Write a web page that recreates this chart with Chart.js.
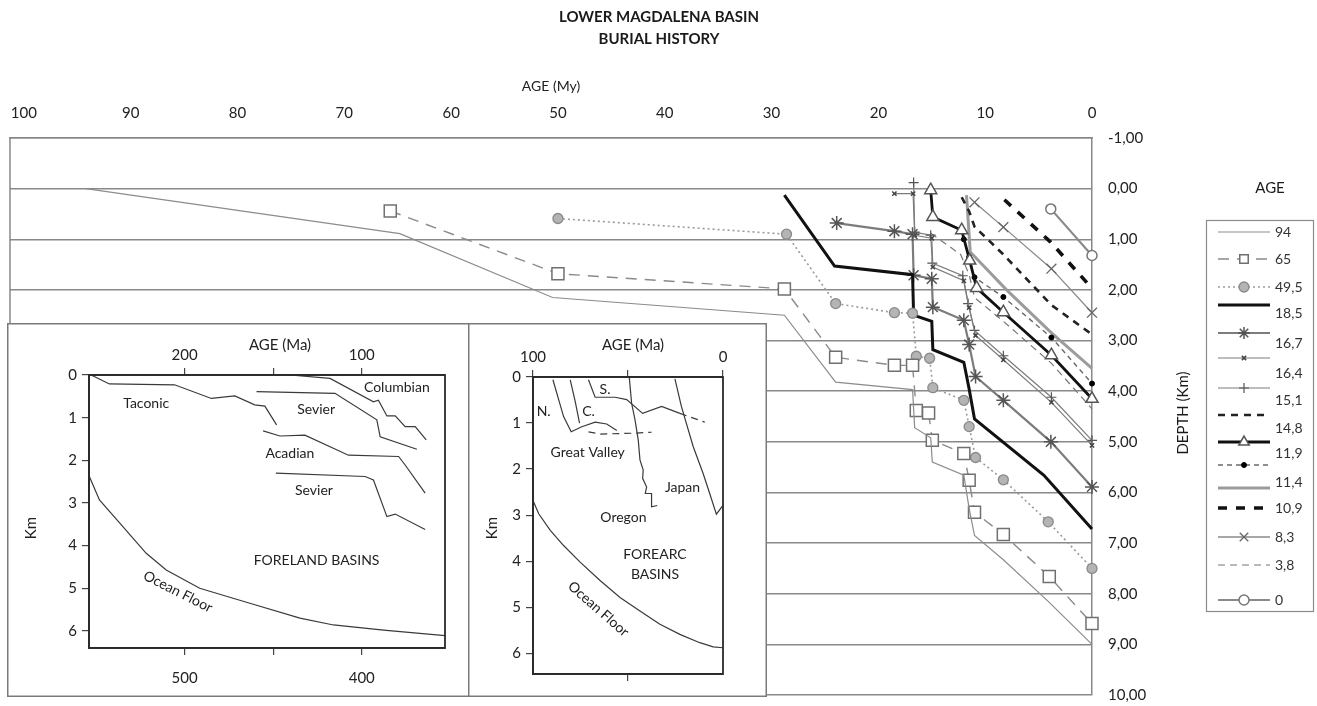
<!DOCTYPE html>
<html>
<head>
<meta charset="utf-8">
<title>Lower Magdalena Basin - Burial History</title>
<script src="https://cdn.jsdelivr.net/npm/chart.js@4.4.1/dist/chart.umd.min.js"></script>
<style>
  html, body { margin: 0; padding: 0; background: #fff; }
  #wrap { position: relative; width: 1317px; height: 706px; overflow: hidden; }
  canvas { position: absolute; display: block; }
  #main { left: 0; top: 0; }
  #foreland { left: 7px; top: 323px; }
  #forearc { left: 468px; top: 323px; }
</style>
</head>
<body>
<div id="wrap">
  <canvas id="main" width="1317" height="706"></canvas>
  <canvas id="foreland" width="463" height="374"></canvas>
  <canvas id="forearc" width="299" height="374"></canvas>
</div>
<script>
// ---------------- Burial history: ages (My) and depths (km) per horizon ----------------
const ageTicks = [0, 10, 20, 30, 40, 50, 60, 70, 80, 90, 100];
const depthTicks = [-1, 0, 1, 2, 3, 4, 5, 6, 7, 8, 9, 10];

const age94 = [94.2, 64.8, 50.5, 28.8, 24.0, 16.8, 16.6, 15.1, 14.95, 12.0, 11.5, 11.0, 8.3, 4.1, 0];
const depth94 = [0, 0.89, 2.15, 2.50, 3.82, 3.97, 4.72, 4.92, 5.40, 5.66, 6.32, 6.85, 7.33, 8.15, 9.0];

const age65 = [65.7, 50.0, 28.8, 24.0, 18.5, 16.8, 16.45, 15.3, 14.95, 12.0, 11.5, 11.0, 8.3, 4.0, 0];
const depth65 = [0.44, 1.68, 1.98, 3.33, 3.49, 3.49, 4.38, 4.43, 4.97, 5.23, 5.76, 6.39, 6.83, 7.66, 8.59];

const age49_5 = [50.0, 28.6, 24.0, 18.5, 16.8, 16.45, 15.2, 14.9, 12.0, 11.5, 10.9, 8.3, 4.1, 0];
const depth49_5 = [0.59, 0.90, 2.27, 2.45, 2.46, 3.31, 3.35, 3.93, 4.18, 4.70, 5.31, 5.75, 6.58, 7.50];

const age18_5 = [28.8, 24.1, 16.8, 16.7, 15.0, 14.9, 12.0, 11.5, 11.0, 4.5, 0];
const depth18_5 = [0.13, 1.53, 1.70, 2.50, 2.62, 3.18, 3.43, 3.96, 4.55, 5.66, 6.72];

const age16_7 = [23.9, 18.5, 16.8, 16.7, 15.0, 14.9, 12.0, 11.5, 10.9, 8.3, 3.85, 0];
const depth16_7 = [0.68, 0.84, 0.90, 1.71, 1.78, 2.34, 2.60, 3.08, 3.71, 4.18, 5.00, 5.89];

const age16_4 = [18.5, 16.75, 16.6, 15.0, 14.9, 12.0, 11.5, 10.9, 8.3, 3.8, 0];
const depth16_4 = [0.10, 0.10, 0.92, 0.98, 1.55, 1.82, 2.35, 2.90, 3.38, 4.22, 5.07];

const age15_1 = [16.7, 16.6, 15.1, 14.95, 12.1, 11.6, 11.0, 8.3, 3.8, 0];
const depth15_1 = [-0.12, 0.86, 0.92, 1.47, 1.72, 2.27, 2.80, 3.30, 4.12, 4.97];

const ageDashed = [12.2, 11.5, 11.0, 8.3, 3.8, 0];
const depthDashed = [0.17, 0.45, 0.75, 1.30, 2.30, 2.88];

const age14_8 = [15.1, 14.9, 12.2, 11.45, 10.8, 8.3, 3.8, 0];
const depth14_8 = [0.03, 0.56, 0.82, 1.42, 1.96, 2.44, 3.29, 4.15];

const age11_9 = [12.0, 11.5, 11.0, 8.3, 3.8, 0];
const depth11_9 = [1.00, 1.35, 1.75, 2.14, 2.94, 3.85];

const age11_4 = [11.75, 11.4, 8.0, 3.8, 0];
const depth11_4 = [0.13, 1.25, 2.00, 2.85, 3.55];

const age10_9 = [8.2, 3.9, 0];
const depth10_9 = [0.22, 1.05, 1.97];

const age8_3 = [11.0, 8.3, 3.8, 0];
const depth8_3 = [0.27, 0.76, 1.58, 2.45];

const age3_8 = [15.1, 12.3, 11.5, 11.0, 8.3, 3.8, 0];
const depth3_8 = [0.88, 1.30, 1.70, 2.15, 2.62, 3.45, 4.35];

const age0 = [3.86, 0];
const depth0 = [0.40, 1.32];

// ---------------- Foreland basins inset (Ma, km) ----------------
const forelandTopTicks = [200, 150, 100];
const forelandBottomTicks = [500, 450, 400];
const forelandDepthTicks = [0, 1, 2, 3, 4, 5, 6];

const taconicAge = [252.8, 242.5, 205.7, 184.9, 171.7, 160.4, 154.7, 148.1];
const taconicDepth = [0, 0.21, 0.23, 0.55, 0.49, 0.70, 0.73, 1.17];
const columbianAge = [140.6, 117.9, 93.4, 90.6, 85.8, 81.1, 75.5, 69.8, 63.6];
const columbianDepth = [0, 0.08, 0.63, 0.59, 0.96, 0.96, 1.21, 1.21, 1.52];
const sevierUpperAge = [159.4, 115.1, 91.5, 89.6, 68.9];
const sevierUpperDepth = [0.39, 0.43, 1.05, 1.45, 1.74];
const acadianAge = [155.7, 146.2, 132.1, 107.5, 79.2, 75.5, 64.2];
const acadianDepth = [1.31, 1.43, 1.41, 1.88, 1.91, 2.11, 2.77];
const sevierLowerAge = [148.5, 98.1, 93.4, 85.8, 81.1, 64.2];
const sevierLowerDepth = [2.30, 2.38, 2.46, 3.32, 3.26, 3.62];
const forelandOceanAge = [253.8, 248.1, 235.0, 221.7, 210.4, 191.5, 163.2, 134.9, 116.0, 87.7, 52.8];
const forelandOceanDepth = [2.38, 2.93, 3.55, 4.18, 4.57, 5.00, 5.35, 5.70, 5.86, 5.98, 6.11];

const forelandNoteText = ['Taconic', 'Columbian', 'Sevier', 'Acadian', 'Sevier', 'FORELAND BASINS', 'Ocean Floor'];
const forelandNoteAge = [221.7, 80.2, 125.8, 140.6, 127.0, 125.5, 203.8];
const forelandNoteDepth = [0.66, 0.29, 0.82, 1.84, 2.70, 4.34, 5.08];

// ---------------- Forearc basins inset (Ma, km) ----------------
const forearcTopTicks = [100, 50, 0];
const forearcDepthTicks = [0, 1, 2, 3, 4, 5, 6];

const northAge = [89.5, 86.5, 83.9, 79.9, 74.3, 67.3, 61.2, 55.9];
const northDepth = [0.06, 0.49, 0.86, 1.19, 1.08, 0.98, 1.02, 1.16];
const centralAge = [80.4, 77.8, 75.5];
const centralDepth = [0.06, 0.53, 1.00];
const valleyBaseAge = [70.8, 64.7, 47.2, 37.6];
const valleyBaseDepth = [1.19, 1.24, 1.22, 1.20];
const southAge = [70.8, 67.3, 56.8, 50.7, 42.3, 32.3, 22.7];
const southDepth = [0.06, 0.44, 0.44, 0.49, 0.79, 0.64, 0.79];
const southTailAge = [22.7, 9.6];
const southTailDepth = [0.79, 0.98];
const oregonAge = [49.3, 48.1, 46.3, 44.6, 43.7, 42.0, 42.3, 40.2, 40.9, 37.6, 37.6, 34.6];
const oregonDepth = [0.02, 0.57, 0.93, 1.37, 1.80, 2.02, 2.20, 2.39, 2.53, 2.53, 2.82, 2.79];
const japanAge = [25.3, 21.9, 15.7, 10.5, 7.0, 3.5, 0];
const japanDepth = [0.04, 0.64, 1.51, 2.09, 2.53, 2.98, 2.79];
const forearcOceanAge = [100, 97.0, 90.9, 83.9, 75.2, 64.7, 54.2, 43.7, 33.2, 22.7, 12.2, 5.2, 0];
const forearcOceanDepth = [2.68, 2.97, 3.33, 3.66, 4.02, 4.42, 4.79, 5.08, 5.37, 5.59, 5.77, 5.86, 5.88];

const forearcNoteText = ['S.', 'N.', 'C.', 'Great Valley', 'Japan', 'Oregon', 'FOREARC', 'BASINS', 'Ocean Floor'];
const forearcNoteAge = [62.1, 94.4, 70.8, 71.2, 21.3, 52.4, 35.8, 35.8, 65.6];
const forearcNoteDepth = [0.28, 0.75, 0.75, 1.64, 2.40, 3.05, 3.85, 4.28, 5.04];

// ---------------- drawing ----------------
const FONT = 'Lato, "Open Sans", "DejaVu Sans", sans-serif';
Chart.defaults.font.family = FONT;
Chart.defaults.color = '#222';

function pts(ages, depths) { return ages.map((a, i) => ({ x: a, y: depths[i] })); }
const comma2 = v => v.toFixed(2).replace('.', ',');
// keep the plot rectangle exactly where the layout padding puts it
function noEdgePadding(s) { s.paddingLeft = 0; s.paddingRight = 0; s.paddingTop = 0; s.paddingBottom = 0; }

function series(label, ages, depths, style) {
  return Object.assign({
    label, data: pts(ages, depths), showLine: true, fill: false, tension: 0,
    clip: false, pointRadius: 0, borderWidth: 1.2, borderColor: '#858585',
    pointHoverRadius: 0
  }, style);
}

const burialSets = [
  series('94', age94, depth94, { borderColor: '#8c8c8c', borderWidth: 1.2 }),
  series('65', age65, depth65, { borderColor: '#8a8a8a', borderWidth: 1.4, borderDash: [11, 8],
    pointStyle: 'rect', pointRadius: 8.5, pointBackgroundColor: '#fff', pointBorderColor: '#707070', pointBorderWidth: 1.5 }),
  series('49,5', age49_5, depth49_5, { borderColor: '#9a9a9a', borderWidth: 1.6, borderDash: [2, 3],
    pointStyle: 'circle', pointRadius: 5, pointBackgroundColor: '#b4b4b4', pointBorderColor: '#8a8a8a', pointBorderWidth: 1.3 }),
  series('18,5', age18_5, depth18_5, { borderColor: '#111', borderWidth: 3 }),
  series('16,7', age16_7, depth16_7, { borderColor: '#7c7c7c', borderWidth: 2.2,
    pointStyle: 'star', pointRadius: 7, pointBorderColor: '#555', pointBorderWidth: 1.5 }),
  series('16,4', age16_4, depth16_4, { borderColor: '#7c7c7c', borderWidth: 1.2,
    pointStyle: 'crossRot', pointRadius: 3, pointBorderColor: '#444', pointBorderWidth: 1.5 }),
  series('15,1', age15_1, depth15_1, { borderColor: '#7c7c7c', borderWidth: 1.2,
    pointStyle: 'cross', pointRadius: 5, pointBorderColor: '#555', pointBorderWidth: 1.2 }),
  series('', ageDashed, depthDashed, { borderColor: '#222', borderWidth: 2.6, borderDash: [7, 6] }),
  series('14,8', age14_8, depth14_8, { borderColor: '#111', borderWidth: 2.8,
    pointStyle: 'triangle', pointRadius: 7, pointBackgroundColor: '#fff', pointBorderColor: '#555', pointBorderWidth: 1.5 }),
  series('11,9', age11_9, depth11_9, { borderColor: '#6a6a6a', borderWidth: 1.4, borderDash: [5, 4],
    pointStyle: 'circle', pointRadius: 2.5, pointBackgroundColor: '#000', pointBorderColor: '#000', pointBorderWidth: 1 }),
  series('11,4', age11_4, depth11_4, { borderColor: '#9c9c9c', borderWidth: 3 }),
  series('10,9', age10_9, depth10_9, { borderColor: '#111', borderWidth: 3.6, borderDash: [9, 9] }),
  series('8,3', age8_3, depth8_3, { borderColor: '#8a8a8a', borderWidth: 1.3,
    pointStyle: 'crossRot', pointRadius: 7, pointBorderColor: '#666', pointBorderWidth: 1.3 }),
  series('3,8', age3_8, depth3_8, { borderColor: '#777', borderWidth: 1.2, borderDash: [7, 5] }),
  series('0', age0, depth0, { borderColor: '#8a8a8a', borderWidth: 2.2,
    pointStyle: 'circle', pointRadius: 5, pointBackgroundColor: '#fff', pointBorderColor: '#777', pointBorderWidth: 1.5 })
];

// Titles, frame, rotated axis title and the boxed legend of the main chart
const burialDecor = {
  id: 'burialDecor',
  afterDraw(chart) {
    const ctx = chart.ctx, area = chart.chartArea;
    ctx.save();
    // left frame edge
    ctx.strokeStyle = '#888'; ctx.lineWidth = 1.5;
    ctx.beginPath(); ctx.moveTo(area.left, area.top); ctx.lineTo(area.left, area.bottom); ctx.stroke();

    ctx.fillStyle = '#1a1a1a';
    ctx.textAlign = 'center'; ctx.textBaseline = 'middle';
    ctx.font = 'bold 15px ' + FONT;
    ctx.fillText('LOWER MAGDALENA BASIN', 659, 17);
    ctx.fillText('BURIAL HISTORY', 659, 39);

    ctx.font = '15px ' + FONT;
    ctx.save();
    ctx.translate(1183, 413); ctx.rotate(-Math.PI / 2);
    ctx.fillText('DEPTH (Km)', 0, 0);
    ctx.restore();

    // legend
    ctx.fillText('AGE', 1270, 188);
    ctx.strokeStyle = '#8a8a8a'; ctx.lineWidth = 1.2; ctx.setLineDash([]);
    ctx.strokeRect(1206.5, 220.5, 107, 391);
    const sampleY = [232, 259, 287, 305, 333, 358, 388, 415, 442, 465, 488, 508, 537, 565, 600];
    const labelY = [232, 259, 287, 313, 343, 373, 400, 428, 453, 482, 508, 537, 565, 600];
    let li = 0;
    chart.data.datasets.forEach((ds, i) => {
      const y = sampleY[i];
      ctx.save();
      ctx.strokeStyle = ds.borderColor; ctx.lineWidth = ds.borderWidth;
      ctx.setLineDash(ds.borderDash || []);
      ctx.beginPath(); ctx.moveTo(1218, y); ctx.lineTo(1270, y); ctx.stroke();
      ctx.setLineDash([]);
      if (ds.pointRadius > 0) {
        ctx.fillStyle = ds.pointBackgroundColor || '#fff';
        ctx.strokeStyle = ds.pointBorderColor || ds.borderColor;
        ctx.lineWidth = ds.pointBorderWidth || 1;
        Chart.helpers.drawPoint(ctx, { pointStyle: ds.pointStyle, radius: Math.min(ds.pointRadius, 6), rotation: 0, borderWidth: ds.pointBorderWidth || 1 }, 1244, y);
      }
      ctx.restore();
      if (ds.label) {
        ctx.fillStyle = '#333'; ctx.textAlign = 'left'; ctx.font = '14px ' + FONT;
        ctx.fillText(ds.label, 1275, labelY[li]);
        li++;
      }
    });
    ctx.restore();
  }
};

new Chart(document.getElementById('main'), {
  type: 'scatter',
  data: { datasets: burialSets },
  options: {
    responsive: false, animation: false, devicePixelRatio: 1,
    events: [],
    layout: { padding: { left: 7, right: 0, top: 0, bottom: 11 } },
    plugins: { legend: { display: false }, tooltip: { enabled: false }, title: { display: false } },
    scales: {
      x: {
        type: 'linear', position: 'top', reverse: true, min: 0, max: 101.3,
        afterBuildTicks: s => { s.ticks = ageTicks.map(v => ({ value: v })); },
        afterFit: s => { s.height = 138; noEdgePadding(s); },
        grid: { display: false, drawTicks: false },
        border: { display: true, color: '#888', width: 1.5 },
        ticks: { padding: 16, autoSkip: false, maxRotation: 0, color: '#222', font: { size: 15 }, callback: v => String(v) },
        title: { display: true, text: 'AGE (My)', color: '#222', font: { size: 14 }, padding: { top: 78, bottom: 0 } }
      },
      y: {
        type: 'linear', position: 'right', reverse: true, min: -1, max: 10,
        afterBuildTicks: s => { s.ticks = depthTicks.map(v => ({ value: v })); },
        afterFit: s => { s.width = 225; noEdgePadding(s); },
        grid: { color: '#888', lineWidth: 1.4, drawTicks: false },
        border: { display: true, color: '#888', width: 1.5 },
        ticks: { padding: 16, color: '#222', font: { size: 15 }, callback: v => comma2(v) }
      }
    }
  },
  plugins: [burialDecor]
});

// ---------------- inset charts ----------------
function insetLine(ages, depths, dashed) {
  return { data: pts(ages, depths), showLine: true, fill: false, tension: 0, pointRadius: 0,
    borderColor: '#3a3a3a', borderWidth: 1.2, borderDash: dashed ? [7, 5] : [] };
}

function insetDecor(id, title, titleX, notes, tilt) {
  return {
    id,
    beforeDraw(chart) {
      const ctx = chart.ctx;
      ctx.save();
      ctx.fillStyle = '#fff'; ctx.fillRect(0, 0, chart.width, chart.height);
      ctx.strokeStyle = '#7a7a7a'; ctx.lineWidth = 1.5;
      ctx.strokeRect(0.75, 0.75, chart.width - 1.5, chart.height - 1.5);
      ctx.restore();
    },
    afterDraw(chart) {
      const ctx = chart.ctx, a = chart.chartArea;
      const xs = chart.scales.x, ys = chart.scales.y;
      ctx.save();
      ctx.strokeStyle = '#2a2a2a'; ctx.lineWidth = 1.8;
      ctx.strokeRect(a.left, a.top, a.right - a.left, a.bottom - a.top);
      ctx.fillStyle = '#222'; ctx.textAlign = 'center'; ctx.textBaseline = 'middle';
      ctx.font = '15px ' + FONT;
      ctx.fillText(title, titleX, 22);
      ctx.save();
      ctx.translate(24, 205); ctx.rotate(-Math.PI / 2);
      ctx.fillText('Km', 0, 0);
      ctx.restore();
      ctx.font = '14px ' + FONT;
      notes.text.forEach((t, i) => {
        const px = xs.getPixelForValue(notes.age[i]);
        const py = ys.getPixelForValue(notes.depth[i]);
        ctx.save();
        ctx.translate(px, py);
        if (t === 'Ocean Floor') ctx.rotate(tilt);
        ctx.fillText(t, 0, 0);
        ctx.restore();
      });
      ctx.restore();
    }
  };
}

function tickAxis(position, min, max, ticks, labels, size, padding) {
  return {
    type: 'linear', position, reverse: true, min, max,
    afterBuildTicks: s => { s.ticks = ticks.map(v => ({ value: v })); },
    afterFit: s => { s.height = size; noEdgePadding(s); },
    grid: { drawOnChartArea: false, drawTicks: true, tickLength: 7, color: '#444', lineWidth: 1.2 },
    border: { display: true, color: '#2a2a2a', width: 1.8 },
    ticks: { autoSkip: false, maxRotation: 0, padding, color: '#222', font: { size: 15 },
      callback: (v) => labels.includes(v) ? String(v) : '' }
  };
}

function depthAxis(max, ticks, width) {
  return {
    type: 'linear', position: 'left', reverse: true, min: 0, max,
    afterBuildTicks: s => { s.ticks = ticks.map(v => ({ value: v })); },
    afterFit: s => { s.width = width; noEdgePadding(s); },
    grid: { drawOnChartArea: false, drawTicks: true, tickLength: 7, color: '#444', lineWidth: 1.2 },
    border: { display: true, color: '#2a2a2a', width: 1.8 },
    ticks: { padding: 5, color: '#222', font: { size: 15 }, callback: v => String(v) }
  };
}

new Chart(document.getElementById('foreland'), {
  type: 'scatter',
  data: { datasets: [
    insetLine(taconicAge, taconicDepth), insetLine(columbianAge, columbianDepth),
    insetLine(sevierUpperAge, sevierUpperDepth), insetLine(acadianAge, acadianDepth),
    insetLine(sevierLowerAge, sevierLowerDepth), insetLine(forelandOceanAge, forelandOceanDepth)
  ] },
  options: {
    responsive: false, animation: false, devicePixelRatio: 1, events: [],
    layout: { padding: { left: 0, right: 25, top: 0, bottom: 0 } },
    plugins: { legend: { display: false }, tooltip: { enabled: false } },
    scales: {
      x: tickAxis('top', 53, 254, forelandTopTicks, [200, 100], 52, 4),
      x2: Object.assign(tickAxis('bottom', 353, 554, forelandBottomTicks, [500, 400], 49, 14), { axis: 'x' }),
      y: depthAxis(6.4, forelandDepthTicks, 82)
    }
  },
  plugins: [insetDecor('forelandDecor', 'AGE (Ma)', 273,
    { text: forelandNoteText, age: forelandNoteAge, depth: forelandNoteDepth }, 0.47)]
});

new Chart(document.getElementById('forearc'), {
  type: 'scatter',
  data: { datasets: [
    insetLine(northAge, northDepth), insetLine(centralAge, centralDepth),
    insetLine(valleyBaseAge, valleyBaseDepth, true), insetLine(southAge, southDepth),
    insetLine(southTailAge, southTailDepth, true), insetLine(oregonAge, oregonDepth),
    insetLine(japanAge, japanDepth), insetLine(forearcOceanAge, forearcOceanDepth)
  ] },
  options: {
    responsive: false, animation: false, devicePixelRatio: 1, events: [],
    layout: { padding: { left: 0, right: 44, top: 0, bottom: 0 } },
    plugins: { legend: { display: false }, tooltip: { enabled: false } },
    scales: {
      x: tickAxis('top', 0, 100, forearcTopTicks, [100, 0], 54, 4),
      x2: Object.assign(tickAxis('bottom', 0, 100, [50], [], 23, 4), { axis: 'x' }),
      y: depthAxis(6.45, forearcDepthTicks, 65)
    }
  },
  plugins: [insetDecor('forearcDecor', 'AGE (Ma)', 165,
    { text: forearcNoteText, age: forearcNoteAge, depth: forearcNoteDepth }, 0.72)]
});
</script>
</body>
</html>
